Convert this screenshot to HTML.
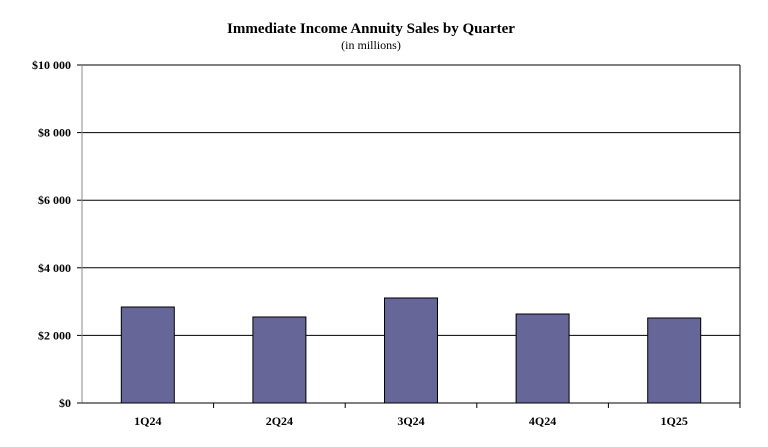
<!DOCTYPE html>
<html><head><meta charset="utf-8"><style>
body{margin:0;background:#fff;}
svg{display:block;font-family:"Liberation Serif",serif;}
</style></head><body>
<svg id="c" width="768" height="447">
<text x="371" y="33" text-anchor="middle" font-size="15" font-weight="bold">Immediate Income Annuity Sales by Quarter</text>
<text x="371" y="49" text-anchor="middle" font-size="12">(in millions)</text>
<g id="g"></g>
</svg>
<script>
const categories=["1Q24","2Q24","3Q24","4Q24","1Q25"];
const values=[2840,2545,3107,2633,2515];
const yTicks=[0,2000,4000,6000,8000,10000];
const yTickLabels=["$0","$2 000","$4 000","$6 000","$8 000","$10 000"];
const X0=82,X1=740,Y0=403,Y1=65,YMAX=10000;
const ns="http://www.w3.org/2000/svg",g=document.getElementById('g');
function y(v){return Y0-(v/YMAX)*(Y0-Y1);}
const bw=(X1-X0)/categories.length;
function x(i){return X0+bw*(i+0.5);}
function mk(t,a){const e=document.createElementNS(ns,t);for(const k in a)e.setAttribute(k,a[k]);g.appendChild(e);return e;}
yTicks.forEach((v,i)=>{
 if(v>0){const l=mk('line',{x1:X0,x2:X1,y1:y(v),y2:y(v),stroke:'#000','stroke-width':1});
 
 }
 const tk=mk('line',{x1:X0-5,x2:X0,y1:y(v),y2:y(v),stroke:'#000'});
 
 
 const t=mk('text',{x:X0-11,y:y(v)+4,'text-anchor':'end','font-size':12,'font-weight':'bold'});
 t.textContent=yTickLabels[i];
 
 
});
const fr=mk('line',{x1:X1,x2:X1,y1:Y1,y2:Y0,stroke:'#000'});


const ya=mk('line',{x1:X0,x2:X0,y1:Y1,y2:Y0,stroke:'#888'});


categories.forEach((c,i)=>{
 const b=mk('rect',{x:x(i)-26.5,y:y(values[i]),width:53,height:Y0-y(values[i]),fill:'#666699',stroke:'#000','stroke-width':1});
 
 
 const t=mk('text',{x:x(i),y:Y0+22,'text-anchor':'middle','font-size':12,'font-weight':'bold'});
 t.textContent=c;
 
 
 const tk=mk('line',{x1:X0+bw*(i+1),x2:X0+bw*(i+1),y1:Y0,y2:Y0+5,stroke:'#000'});
 
 
});
const xa=mk('line',{x1:X0,x2:X1,y1:Y0,y2:Y0,stroke:'#000'});


</script>
</body></html>
